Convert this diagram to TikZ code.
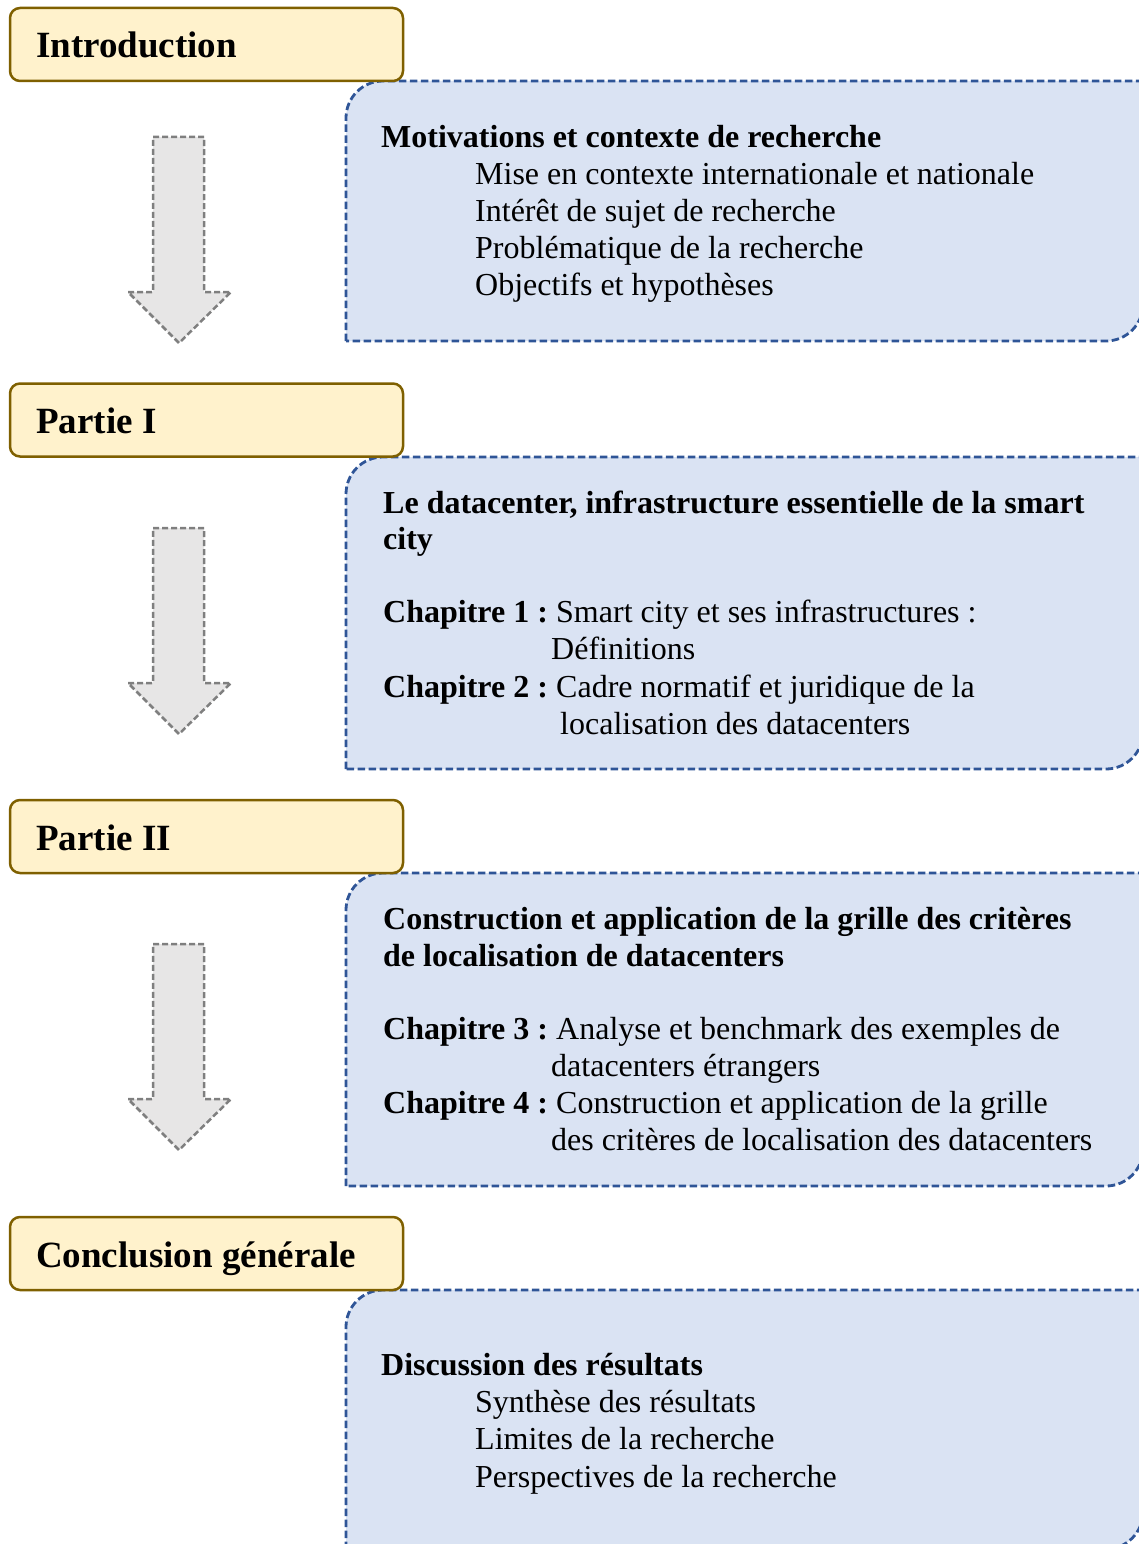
\documentclass[tikz,border=0pt]{standalone}
\usepackage{fontspec}
\setmainfont{Liberation Serif}
\definecolor{yfill}{HTML}{FFF2CC}
\definecolor{ydraw}{HTML}{7F6000}
\definecolor{bfill}{HTML}{DAE3F3}
\definecolor{bdraw}{HTML}{2F5597}
\definecolor{afill}{HTML}{E7E6E6}
\definecolor{adraw}{HTML}{7F7F7F}
\tikzset{
  ybox/.style={draw=ydraw, fill=yfill, line width=2.5pt, rounded corners=10pt,
    minimum width=393pt, minimum height=73pt, inner sep=0pt, outer sep=0pt, anchor=north west},
  ttl/.style={anchor=base west, inner sep=0pt, font=\fontsize{37}{44}\selectfont\bfseries},
  infobox/.style={draw=bdraw, fill=bfill, line width=2.8pt, dash pattern=on 7.5pt off 3.5pt},
  hd/.style={anchor=base west, inner sep=0pt, font=\fontsize{32}{37}\selectfont\bfseries},
  txt/.style={anchor=base west, inner sep=0pt, font=\fontsize{32}{37}\selectfont},
  downarr/.style={draw=adraw, fill=afill, line width=2.5pt, dash pattern=on 6pt off 3pt}
}
\newcommand{\blueframe}[2]{%
  \draw[infobox] (346,#2) -- (346,{#1+100}) [rounded corners=37pt] -- (346,#1) -- (700,#1)
    [sharp corners] -- (1143,#1) -- (1143,{#2-100}) [rounded corners=37pt] -- (1143,#2) -- (700,#2)
    [sharp corners] -- cycle;}
\newcommand{\grayarrow}[1]{%
  \draw[downarr] (153,#1) -- (204,#1) -- (204,{#1+155}) -- (231,{#1+155}) -- (179,{#1+206})
    -- (128,{#1+155}) -- (153,{#1+155}) -- cycle;}
\begin{document}
\begin{tikzpicture}[x=1pt,y=-1pt]
\useasboundingbox (0,0) rectangle (1139,1544);
\clip (0,0) rectangle (1139,1544);

% blue frames
\blueframe{81}{341}
\blueframe{457}{769}
\blueframe{873}{1186}
\blueframe{1290}{1549}

% yellow title boxes
\node[ybox] (b1) at (10,8) {};
\node[ybox] (b2) at (10,383.5) {};
\node[ybox] (b3) at (10,800) {};
\node[ybox] (b4) at (10,1217) {};
\node[ttl] (t1) at (36,58) {Introduction};
\node[ttl] (t2) at (36,433.5) {Partie I};
\node[ttl] (t3) at (36,850) {Partie II};
\node[ttl] (t4) at (36,1267) {Conclusion générale};

% arrows
\grayarrow{137}
\grayarrow{528}
\grayarrow{944}

% box 1
\node[hd] (m0) at (381,147) {Motivations et contexte de recherche};
\node[txt] (m1) at (475,184) {Mise en contexte internationale et nationale};
\node[txt] (m2) at (475,221) {Intérêt de sujet de recherche};
\node[txt] (m3) at (475,258) {Problématique de la recherche};
\node[txt] (m4) at (475,295) {Objectifs et hypothèses};

% box 2
\node[hd] (p0) at (383,513) {Le datacenter, infrastructure essentielle de la smart};
\node[hd] (p1) at (383,549) {city};
\node[hd] (p2a) at (383,622) {Chapitre 1 :};
\node[txt] (p2) at (556,622) {Smart city et ses infrastructures :};
\node[txt] (p3) at (551,659) {Définitions};
\node[hd] (p4a) at (383,697) {Chapitre 2 :};
\node[txt] (p4) at (556,697) {Cadre normatif et juridique de la};
\node[txt] (p5) at (560,734) {localisation des datacenters};

% box 3
\node[hd] (q0) at (383,929) {Construction et application de la grille des critères};
\node[hd] (q1) at (383,966) {de localisation de datacenters};
\node[hd] (q2a) at (383,1039) {Chapitre 3 :};
\node[txt] (q2) at (556,1039) {Analyse et benchmark des exemples de};
\node[txt] (q3) at (551,1076) {datacenters étrangers};
\node[hd] (q4a) at (383,1113) {Chapitre 4 :};
\node[txt] (q4) at (556,1113) {Construction et application de la grille};
\node[txt] (q5) at (551,1150) {des critères de localisation des datacenters};

% box 4
\node[hd] (r0) at (381,1375) {Discussion des résultats};
\node[txt] (r1) at (475,1412) {Synthèse des résultats};
\node[txt] (r2) at (475,1449) {Limites de la recherche};
\node[txt] (r3) at (475,1487) {Perspectives de la recherche};
\end{tikzpicture}
\end{document}
